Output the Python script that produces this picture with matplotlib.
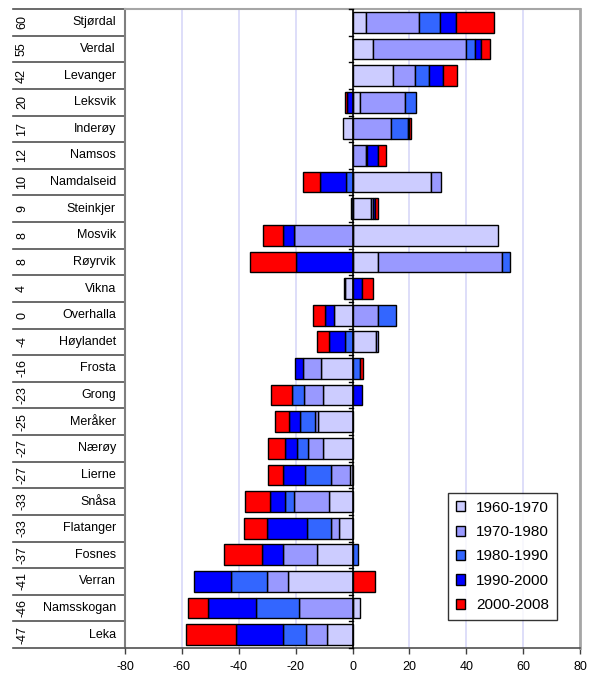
import matplotlib
matplotlib.use("Agg")
import matplotlib.pyplot as plt
from matplotlib.patches import Patch
from matplotlib.transforms import blended_transform_factory

plt.rcParams['font.family'] = ['Liberation Sans', 'DejaVu Sans']
plt.rcParams['axes.unicode_minus'] = False

# kommuner, ovenfra og ned
names = ['Stjørdal', 'Verdal', 'Levanger', 'Leksvik', 'Inderøy', 'Namsos',
         'Namdalseid', 'Steinkjer', 'Mosvik', 'Røyrvik', 'Vikna', 'Overhalla',
         'Høylandet', 'Frosta', 'Grong', 'Meråker', 'Nærøy', 'Lierne', 'Snåsa',
         'Flatanger', 'Fosnes', 'Verran', 'Namsskogan', 'Leka']
net = [60, 55, 42, 20, 17, 12, 10, 9, 8, 8, 4, 0, -4, -16, -23, -25, -27, -27,
       -33, -33, -37, -41, -46, -47]

# prosentvis endring per periode
p1960 = [4.8, 7.3, 14.2, 2.5, -3.4, 0.0, 27.5, 6.4, 51.3, 9.0, -2.6, -6.4, 8.3,
         -11.0, -10.2, -12.2, -10.2, -0.8, -8.4, -4.9, -12.5, -22.7, 2.5, -9.0]
p1970 = [18.7, 32.6, 7.8, 15.8, 13.4, 4.8, 3.5, 0.9, -20.4, 43.4, -0.5, 9.0, 0.8,
         -6.4, -7.0, -0.9, -5.3, -6.8, -12.3, -2.7, -11.9, -7.4, -18.9, -7.3]
p1980 = [7.3, 3.3, 4.8, 3.9, 6.1, 0.2, -2.3, -0.5, -0.3, 3.0, 0.0, 6.2, -2.8,
         2.5, -4.0, -5.5, -4.1, -9.0, -2.9, -8.4, 2.1, -12.6, -15.2, -8.2]
p1990 = [5.7, 2.1, 5.0, -2.0, 0.3, 4.1, -9.0, 0.6, -3.7, -20.0, 3.3, -3.4, -5.3,
         -2.9, 3.3, -3.9, -4.1, -7.8, -5.3, -14.0, -7.3, -13.1, -16.7, -16.6]
p2000 = [13.2, 3.2, 4.8, -0.8, 0.6, 2.6, -6.1, 1.2, -7.0, -15.9, 4.0, -4.1, -4.4,
         1.2, -7.4, -4.9, -6.1, -5.3, -8.8, -8.2, -13.6, 7.8, -7.2, -17.5]

periods = ['1960-1970', '1970-1980', '1980-1990', '1990-2000', '2000-2008']
colors = ['#ccccff', '#9999ff', '#3366ff', '#0000ff', '#ff0000']
series = [p1960, p1970, p1980, p1990, p2000]

fig = plt.figure(figsize=(5.95, 6.73), dpi=100)
ax = fig.add_axes([125 / 595, 25 / 673, 455 / 595, 639 / 673])

n = len(names)
pos_left = [0.0] * n
neg_left = [0.0] * n
for vals, col in zip(series, colors):
    for i, v in enumerate(vals):
        if v == 0:
            continue
        if v > 0:
            ax.barh(i, v, left=pos_left[i], height=0.78, color=col,
                    edgecolor='black', linewidth=1.0, zorder=3)
            pos_left[i] += v
        else:
            ax.barh(i, v, left=neg_left[i], height=0.78, color=col,
                    edgecolor='black', linewidth=1.0, zorder=3)
            neg_left[i] += v

ax.set_ylim(n - 0.5, -0.5)
ax.set_xlim(-80, 80)
ax.set_xticks(range(-80, 81, 20))
ax.tick_params(axis='x', labelsize=9, length=4, width=1, color='#404040', pad=5)
ax.set_yticks([])
for x in range(-60, 61, 20):
    if x != 0:
        ax.axvline(x, color='#d8d8f8', lw=1.2, zorder=1)
ax.axvline(0, color='black', lw=1.2, zorder=4)
# små merker på nullinjen
for k in range(n + 1):
    ax.plot([-1.1, 0], [k - 0.5, k - 0.5], color='black', lw=1, zorder=4,
            clip_on=False)

ax.spines['left'].set_color('#7f7f7f')
ax.spines['left'].set_linewidth(1.5)
ax.spines['top'].set_color('#a6a6a6')
ax.spines['top'].set_linewidth(1.5)
ax.spines['right'].set_color('#a6a6a6')
ax.spines['right'].set_linewidth(2)
ax.spines['bottom'].set_color('#505050')
ax.spines['bottom'].set_linewidth(1.2)

# kategoritabell til venstre
trans = blended_transform_factory(ax.transAxes, ax.transData)
x0 = (13 - 125) / 455
for k in range(n + 1):
    ax.plot([x0, 0], [k - 0.5, k - 0.5], color='#505050', lw=1.2,
            transform=trans, clip_on=False)
for i, (name, v) in enumerate(zip(names, net)):
    ax.text(-9 / 455, i, name, transform=trans, ha='right', va='center',
            fontsize=9)
    ax.text((22 - 125) / 455, i, str(v), transform=trans, ha='center',
            va='center', rotation=90, fontsize=9)

handles = [Patch(facecolor=c, edgecolor='black', linewidth=1) for c in colors]
leg = ax.legend(handles, periods, loc='lower right',
                bbox_to_anchor=(0.949, 0.044), fontsize=11, frameon=True,
                fancybox=False, borderaxespad=0, handlelength=0.65,
                handleheight=0.65, handletextpad=0.7, labelspacing=0.68,
                borderpad=0.5)
leg.get_frame().set_edgecolor('black')
leg.get_frame().set_linewidth(1)
leg.set_zorder(5)

fig.savefig('out.png', dpi=100)
